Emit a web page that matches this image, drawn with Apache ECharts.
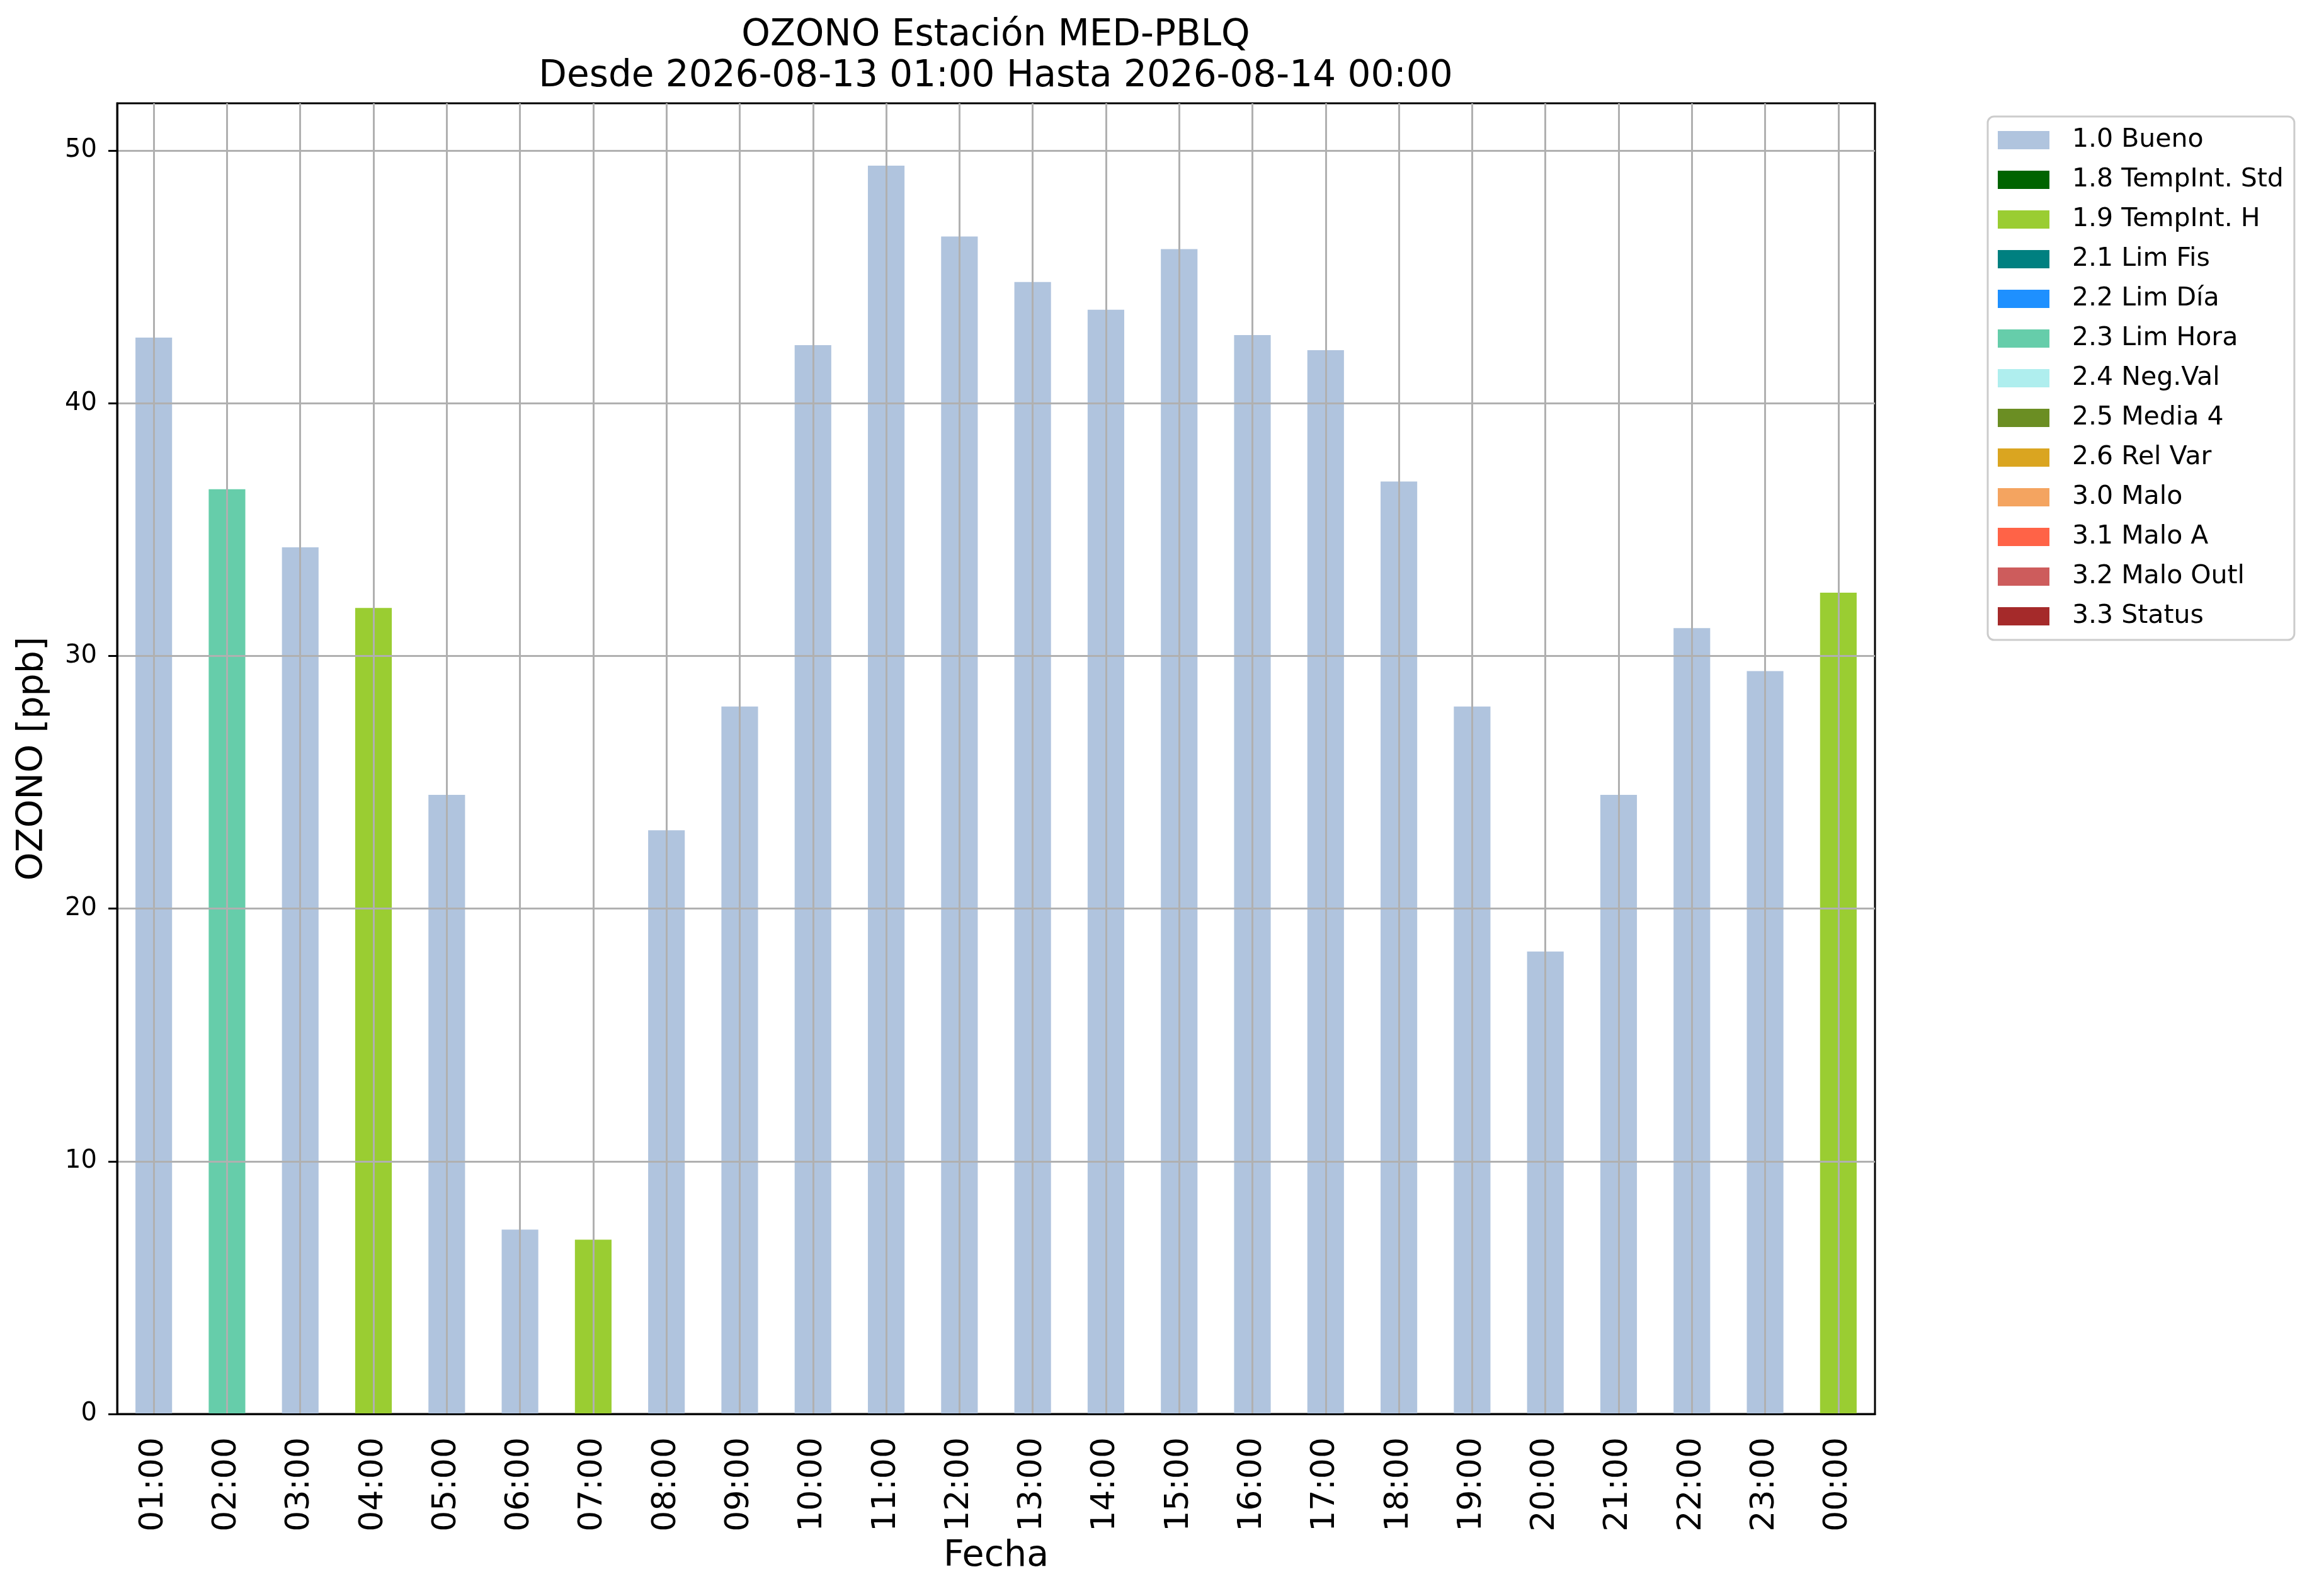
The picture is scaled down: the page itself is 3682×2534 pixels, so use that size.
<!DOCTYPE html>
<html>
<head>
<meta charset="utf-8">
<script src="https://cdn.jsdelivr.net/npm/echarts@6/dist/echarts.min.js"></script>
<style>
  html, body { margin: 0; padding: 0; background: #fff; }
  #chart { width: 3682px; height: 2534px; }
</style>
</head>
<body>
<div id="chart"></div>
<script>
// hours of the day shown on the x axis
var hours = ['01:00', '02:00', '03:00', '04:00', '05:00', '06:00', '07:00', '08:00',
    '09:00', '10:00', '11:00', '12:00', '13:00', '14:00', '15:00', '16:00',
    '17:00', '18:00', '19:00', '20:00', '21:00', '22:00', '23:00', '00:00'];

// ozone values [ppb] per hour
var ozone = [42.6, 36.6, 34.3, 31.9, 24.5, 7.3, 6.9, 23.1,
    28.0, 42.3, 49.4, 46.6, 44.8, 43.7, 46.1, 42.7,
    42.1, 36.9, 28.0, 18.3, 24.5, 31.1, 29.4, 32.5];

// quality flag of each hour
var hourFlags = ['1.0', '2.3', '1.0', '1.9', '1.0', '1.0', '1.9', '1.0',
    '1.0', '1.0', '1.0', '1.0', '1.0', '1.0', '1.0', '1.0',
    '1.0', '1.0', '1.0', '1.0', '1.0', '1.0', '1.0', '1.9'];

// legend: flag codes, names and colours
var flagCodes = ['1.0', '1.8', '1.9', '2.1', '2.2', '2.3', '2.4', '2.5', '2.6', '3.0', '3.1', '3.2', '3.3'];
var flagNames = ['1.0 Bueno', '1.8 TempInt. Std', '1.9 TempInt. H', '2.1 Lim Fis', '2.2 Lim Día',
    '2.3 Lim Hora', '2.4 Neg.Val', '2.5 Media 4', '2.6 Rel Var', '3.0 Malo',
    '3.1 Malo A', '3.2 Malo Outl', '3.3 Status'];
var flagColors = ['#b0c4de', '#006400', '#9acd32', '#008080', '#1e90ff', '#66cdaa', '#afeeee',
    '#6b8e23', '#daa520', '#f4a460', '#ff6347', '#cd5c5c', '#a52a2a'];

var yTicks = [0, 10, 20, 30, 40, 50];
var yMax = 51.87;

var titleLine1 = 'OZONO Estación MED-PBLQ';
var titleLine2 = 'Desde 2026-08-13 01:00 Hasta 2026-08-14 00:00';

var font = 'DejaVu Sans';

var series = flagCodes.map(function (code, k) {
    return {
        name: flagNames[k],
        type: 'bar',
        stack: 'ozono',
        barWidth: '50%',
        itemStyle: { color: flagColors[k] },
        data: ozone.map(function (v, i) {
            return hourFlags[i] === code ? v : null;
        })
    };
});

var myChart = echarts.init(document.getElementById('chart'));
var option = {
    animation: false,
    backgroundColor: '#ffffff',
    textStyle: { fontFamily: font },
    graphic: [{
        type: 'text',
        x: 1581,
        y: 57,
        style: {
            text: titleLine1,
            font: '58px "DejaVu Sans"',
            fill: '#000',
            textAlign: 'center',
            textVerticalAlign: 'middle'
        }
    }, {
        type: 'text',
        x: 1581,
        y: 122,
        style: {
            text: titleLine2,
            font: '58px "DejaVu Sans"',
            fill: '#000',
            textAlign: 'center',
            textVerticalAlign: 'middle'
        }
    }],
    grid: {
        left: 186,
        right: 705,
        top: 164,
        bottom: 289,
        show: true,
        borderColor: '#000',
        borderWidth: 3,
        backgroundColor: '#fff'
    },
    legend: {
        orient: 'vertical',
        left: 3156,
        top: 185,
        data: flagNames,
        icon: 'rect',
        itemWidth: 82,
        itemHeight: 29,
        itemGap: 22,
        padding: [17, 17, 17, 16],
        borderColor: '#cccccc',
        borderWidth: 3,
        borderRadius: 10,
        backgroundColor: '#ffffff',
        selectedMode: false,
        textStyle: {
            fontFamily: font,
            fontSize: 41,
            lineHeight: 40,
            color: '#000',
            padding: [0, 0, 0, 31]
        }
    },
    xAxis: {
        type: 'category',
        data: hours,
        z: 5,
        name: 'Fecha',
        nameLocation: 'middle',
        nameGap: 198,
        nameTextStyle: { fontFamily: font, fontSize: 57, color: '#000' },
        axisLine: { lineStyle: { color: '#000', width: 3 } },
        axisTick: { alignWithLabel: true, length: 15, lineStyle: { color: '#000', width: 3 } },
        axisLabel: { rotate: 90, margin: 37, fontFamily: font, fontSize: 52, color: '#000', interval: 0 },
        splitLine: { show: true, alignWithLabel: true, lineStyle: { color: '#b0b0b0', width: 3 } }
    },
    yAxis: {
        type: 'value',
        min: 0,
        max: yMax,
        interval: 10,
        z: 5,
        name: 'OZONO [ppb]',
        nameLocation: 'middle',
        nameGap: 105,
        nameTextStyle: { fontFamily: font, fontSize: 57, color: '#000' },
        axisLine: { show: true, lineStyle: { color: '#000', width: 3 } },
        axisTick: { show: true, length: 14, customValues: yTicks, lineStyle: { color: '#000', width: 3 } },
        axisLabel: {
            margin: 32, fontFamily: font, fontSize: 40, color: '#000',
            customValues: yTicks
        },
        splitLine: { show: true, customValues: yTicks, lineStyle: { color: '#b0b0b0', width: 3 } }
    },
    series: series
};
myChart.setOption(option);
</script>
</body>
</html>
